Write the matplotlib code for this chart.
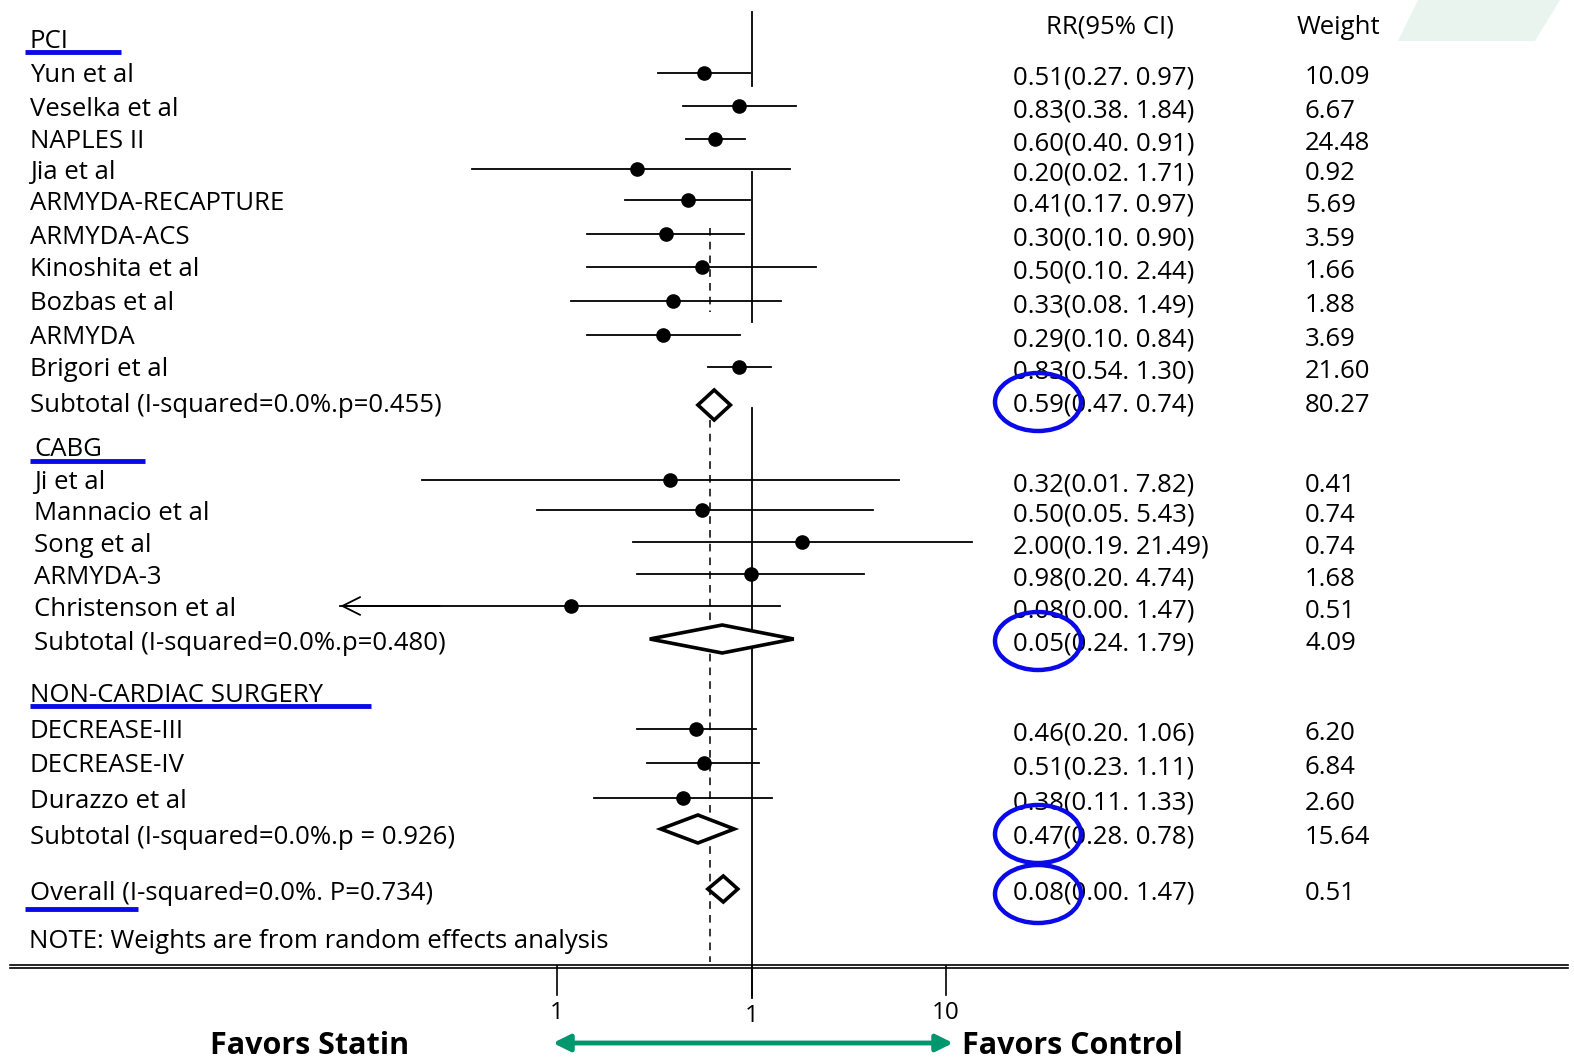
import numpy as np
import matplotlib.pyplot as plt
from matplotlib.patches import Ellipse, Polygon

plt.rcParams['font.family'] = ['Open Sans', 'DejaVu Sans']

# study rows: name, estimate, lower, upper, weight
pci_names = ['Yun et al', 'Veselka et al', 'NAPLES II', 'Jia et al', 'ARMYDA-RECAPTURE',
             'ARMYDA-ACS', 'Kinoshita et al', 'Bozbas et al', 'ARMYDA', 'Brigori et al']
pci_rr = [0.51, 0.83, 0.60, 0.20, 0.41, 0.30, 0.50, 0.33, 0.29, 0.83]
pci_lo = [0.27, 0.38, 0.40, 0.02, 0.17, 0.10, 0.10, 0.08, 0.10, 0.54]
pci_hi = [0.97, 1.84, 0.91, 1.71, 0.97, 0.90, 2.44, 1.49, 0.84, 1.30]
pci_w = ['10.09', '6.67', '24.48', '0.92', '5.69', '3.59', '1.66', '1.88', '3.69', '21.60']

cabg_names = ['Ji et al', 'Mannacio et al', 'Song et al', 'ARMYDA-3', 'Christenson et al']
cabg_rr = [0.32, 0.50, 2.00, 0.98, 0.08]
cabg_lo = [0.01, 0.05, 0.19, 0.20, 0.00]
cabg_hi = [7.82, 5.43, 21.49, 4.74, 1.47]
cabg_w = ['0.41', '0.74', '0.74', '1.68', '0.51']

nc_names = ['DECREASE-III', 'DECREASE-IV', 'Durazzo et al']
nc_rr = [0.46, 0.51, 0.38]
nc_lo = [0.20, 0.23, 0.11]
nc_hi = [1.06, 1.11, 1.33]
nc_w = ['6.20', '6.84', '2.60']

# pooled rows as printed
sub_labels = ['Subtotal (I-squared=0.0%.p=0.455)', 'Subtotal (I-squared=0.0%.p=0.480)',
              'Subtotal (I-squared=0.0%.p = 0.926)', 'Overall (I-squared=0.0%. P=0.734)']
sub_text = ['0.59(0.47. 0.74)', '0.05(0.24. 1.79)', '0.47(0.28. 0.78)', '0.08(0.00. 1.47)']
sub_w = ['80.27', '4.09', '15.64', '0.51']
# pooled diamonds as drawn
dia_lo = [0.47, 0.24, 0.28, 0.54]
dia_mid = [0.59, 0.66, 0.47, 0.67]
dia_hi = [0.74, 1.79, 0.78, 0.82]

pooled_line = 0.56
arrow_end = 0.0032
tick_vals = [0.066, 1, 15]
tick_labels = ['1', '1', '10']

# layout (pixel rows on a 1574x1064 canvas)
pci_y = [73, 106, 139, 169, 200, 234, 267, 301, 335, 367]
cabg_y = [480, 510, 542, 574, 606]
nc_y = [729, 763, 798]
sub_y = [405, 639, 829, 889]
sub_text_y = [402, 641, 834, 890]
col_rr, col_w = 1013, 1305

fig = plt.figure(figsize=(15.74, 10.64), dpi=100)
ax = fig.add_axes([0, 0, 1, 1])
ax.set_xscale('log')
ax.set_xlim(10 ** (-752 / 165), 10 ** (822 / 165))
ax.set_ylim(1064, 0)
ax.axis('off')

tx = fig.add_axes([0, 0, 1, 1], facecolor='none')
tx.set_xlim(0, 1574)
tx.set_ylim(1064, 0)
tx.axis('off')

fs = 18.5
dy_txt = 3
blue = '#0a0ae8'


def label(x, y, s, **kw):
    tx.text(x, y + dy_txt, s, fontsize=fs, va='center', **kw)


# faint decoration in the top right corner
tx.add_patch(Polygon([[1418, 0], [1560, 0], [1535, 41], [1398, 41]], closed=True,
                     facecolor='#eaf4ee', edgecolor='none', zorder=0))

# reference lines
for y0, y1 in [(12, 86), (172, 322), (408, 998)]:
    ax.plot([1, 1], [y0, y1], color='black', lw=1.3)
for y0, y1 in [(228, 312), (420, 962)]:
    ax.plot([pooled_line, pooled_line], [y0, y1], color='black', lw=1.1, ls=(0, (5, 4)))


# studies
def draw_group(names, rr, lo, hi, w, ys, txt_x):
    for n, e, l, h, wt, y in zip(names, rr, lo, hi, w, ys):
        if l > 0:
            ax.plot([l, h], [y, y], color='black', lw=1.3)
        else:
            ax.plot([arrow_end, h], [y, y], color='black', lw=1.3)
            ax.annotate('', xy=(arrow_end, y), xytext=(arrow_end * 4, y),
                        arrowprops=dict(arrowstyle='->', lw=1.3, mutation_scale=32,
                                        shrinkA=0, shrinkB=0))
        ax.plot(e, y, 'o', color='black', ms=9.5)
        label(txt_x, y, n)
        label(col_rr, y + 2, f'{e:.2f}({l:.2f}. {h:.2f})')
        label(col_w, y + 2, wt)


draw_group(pci_names, pci_rr, pci_lo, pci_hi, pci_w, pci_y, 30)
draw_group(cabg_names, cabg_rr, cabg_lo, cabg_hi, cabg_w, cabg_y, 34)
draw_group(nc_names, nc_rr, nc_lo, nc_hi, nc_w, nc_y, 30)

# pooled diamonds
half_h = [15, 14, 14, 13]
for i in range(4):
    y = sub_y[i]
    dx = [dia_lo[i], dia_mid[i], dia_hi[i], dia_mid[i]]
    dy = [y, y - half_h[i], y, y + half_h[i]]
    ax.add_patch(Polygon(list(zip(dx, dy)), closed=True, facecolor='white',
                         edgecolor='black', lw=2.6, zorder=3))
    label(30 if i != 1 else 34, sub_text_y[i], sub_labels[i])
    label(col_rr, sub_text_y[i], sub_text[i])
    label(col_w, sub_text_y[i], sub_w[i])
    tx.add_patch(Ellipse((1038, sub_text_y[i] + (0 if i != 3 else 4)), 86, 58,
                         facecolor='none', edgecolor=blue, lw=3.2, zorder=4))

# headers
tx.text(1110, 27, 'RR(95% CI)', fontsize=fs, ha='center', va='center')
tx.text(1338, 27, 'Weight', fontsize=fs, ha='center', va='center')
label(30, 38, 'PCI')
label(34, 447, 'CABG')
label(30, 692, 'NON-CARDIAC SURGERY')
label(29, 939, 'NOTE: Weights are from random effects analysis')
for x0, x1, y in [(25, 121, 52), (30, 145, 461), (30, 371, 706), (25, 138, 909)]:
    tx.plot([x0, x1], [y, y], color=blue, lw=3.5, solid_capstyle='butt')

# bottom axis
tx.plot([10, 1568], [965, 965], color='black', lw=1.2)
tx.plot([10, 1568], [967.5, 967.5], color='black', lw=1.2)
for v, lab in zip(tick_vals, tick_labels):
    ax.plot([v, v], [966, 995], color='black', lw=1.2)
    ax.text(v, 1016 if v == 1 else 1013, lab, fontsize=fs - 1, ha='center', va='center')

# direction arrow
tx.annotate('', xy=(553, 1043), xytext=(953, 1043),
            arrowprops=dict(arrowstyle='<|-|>', color='#00966e', lw=3.5,
                            mutation_scale=25, shrinkA=0, shrinkB=0))
tx.text(310, 1046, 'Favors Statin', fontsize=22, fontweight='bold', ha='center', va='center')
tx.text(962, 1046, 'Favors Control', fontsize=22, fontweight='bold', ha='left', va='center')

fig.savefig('out.png', dpi=100, facecolor='white')
